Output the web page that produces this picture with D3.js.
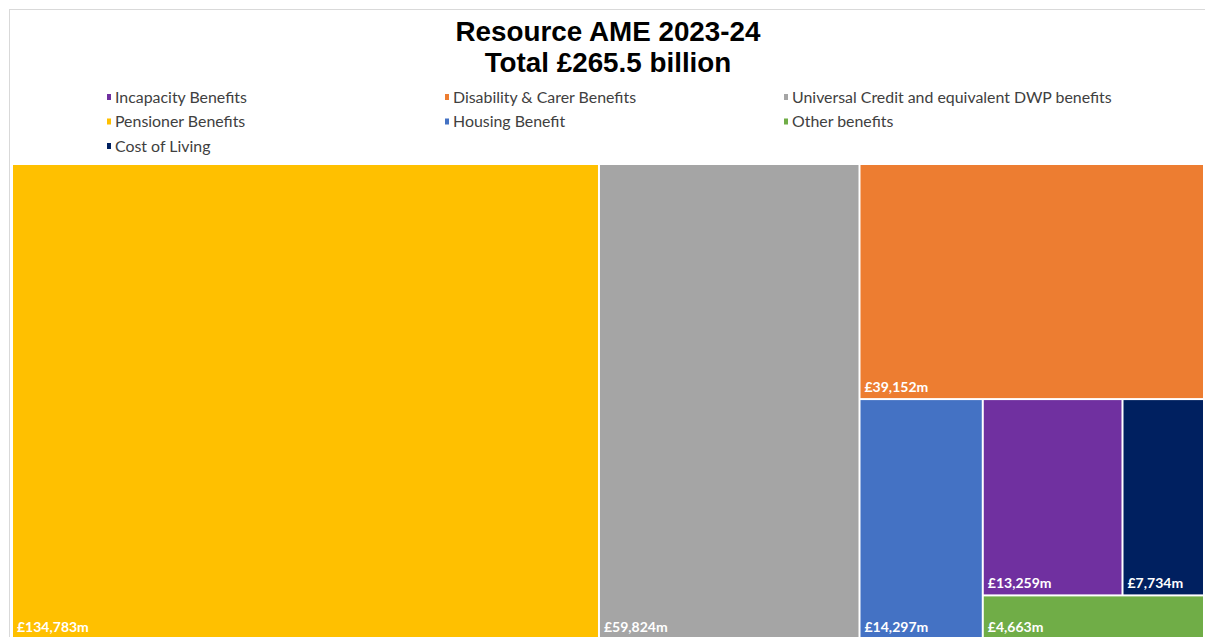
<!DOCTYPE html>
<html>
<head>
<meta charset="utf-8">
<script src="https://cdn.jsdelivr.net/npm/d3@7"></script>
<style>
  body { margin: 0; background: #fff; }
  svg { display: block; }
</style>
</head>
<body>
<svg id="chart" width="1205" height="637"></svg>
<script>
// data
var titleLines = ["Resource AME 2023-24", "Total £265.5 billion"];
var categories = ["Pensioner Benefits", "Universal Credit and equivalent DWP benefits",
  "Disability & Carer Benefits", "Housing Benefit", "Incapacity Benefits",
  "Cost of Living", "Other benefits"];
var values = [134783, 59824, 39152, 14297, 13259, 7734, 4663];
var colors = ["#FFC000", "#A5A5A5", "#ED7D31", "#4472C4", "#7030A0", "#002060", "#70AD47"];
// legend order as in the reference (indices into categories)
var legendOrder = [4, 2, 1, 0, 3, 6, 5];

// nesting of the tiles, as Excel laid them out (indices into categories)
var nesting = [0, 1, [2, [3, [[4, 5], 6]]]];

var svg = d3.select("#chart");

// chart frame
svg.append("rect")
  .attr("x", 9.5).attr("y", 9.5)
  .attr("width", 1210).attr("height", 640)
  .attr("fill", "#fff")
  .attr("stroke", "#d9d9d9");

// title
svg.append("g").selectAll("text")
  .data(titleLines)
  .enter().append("text")
  .attr("x", 608)
  .attr("y", function(d, i) { return 41 + i * 31; })
  .attr("text-anchor", "middle")
  .style("font-family", "'Liberation Sans', Arial, sans-serif")
  .style("font-weight", "bold")
  .style("font-size", "27.8px")
  .text(function(d) { return d; });

// legend
var legendCols = [107, 445, 784];
var legend = svg.append("g").selectAll("g")
  .data(legendOrder)
  .enter().append("g")
  .attr("transform", function(d, i) {
    return "translate(" + legendCols[i % 3] + "," + (97 + Math.floor(i / 3) * 24.5) + ")";
  });
legend.append("rect")
  .attr("x", 0).attr("y", -3)
  .attr("width", 4).attr("height", 6)
  .attr("fill", function(d) { return colors[d]; });
legend.append("text")
  .attr("x", 8).attr("y", 5.5)
  .style("font-family", "Lato, 'Open Sans', sans-serif")
  .style("font-size", "15.9px")
  .attr("fill", "#404040")
  .text(function(d) { return categories[d]; });

// treemap
function build(n) {
  if (Array.isArray(n)) return { children: n.map(build) };
  return { idx: n, name: categories[n], value: values[n] };
}
var root = d3.hierarchy(build(nesting)).sum(function(d) { return d.value || 0; });

d3.treemap()
  .tile(d3.treemapSliceDice)
  .size([1190, 473])
  .paddingInner(2)
  .round(false)(root);

var cells = svg.append("g")
  .attr("transform", "translate(13,165)")
  .selectAll("g")
  .data(root.leaves())
  .enter().append("g");

cells.append("rect")
  .attr("x", function(d) { return d.x0; })
  .attr("y", function(d) { return d.y0; })
  .attr("width", function(d) { return d.x1 - d.x0; })
  .attr("height", function(d) { return d.y1 - d.y0; })
  .attr("fill", function(d) { return colors[d.data.idx]; });

var fmt = d3.format(",");
cells.append("text")
  .attr("x", function(d) { return d.x0 + 4; })
  .attr("y", function(d) { return d.y1 - 6; })
  .attr("fill", "#fff")
  .style("font-family", "Lato, 'Open Sans', sans-serif")
  .style("font-weight", "bold")
  .style("font-size", "14px")
  .text(function(d) { return "£" + fmt(d.data.value) + "m"; });
</script>
</body>
</html>
